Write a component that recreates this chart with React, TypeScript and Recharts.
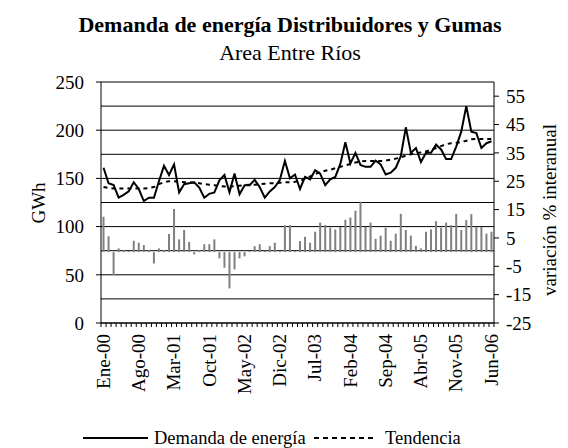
import React from 'react';
import {
  ComposedChart,
  Bar,
  Line,
  XAxis,
  YAxis,
  CartesianGrid,
} from 'recharts';

// month names and years for the category axis (Ene-00 .. Jun-06)
const monthNames = ['Ene', 'Feb', 'Mar', 'Abr', 'May', 'Jun', 'Jul', 'Ago', 'Sep', 'Oct', 'Nov', 'Dic'];
const years = ['00', '01', '02', '03', '04', '05', '06'];

// GWh, monthly demand
const demanda = [
  161, 145, 143, 130, 133, 136.5, 146, 139, 126.5, 130, 130, 147,
  163, 153.5, 164.5, 135.5, 144, 145, 146, 140.5, 130, 134, 135.5, 148,
  153.5, 135.5, 155, 133.5, 143, 143, 148.5, 141, 130, 136.5, 141, 148.5,
  168, 150, 154, 139, 151.5, 149, 158.5, 155, 143, 149, 151.5, 165,
  187.5, 165.5, 176.5, 164, 162, 162, 168.5, 164.5, 154, 156, 161, 173,
  203, 176.5, 181.5, 167, 176.5, 176.5, 185, 180, 170, 170, 183, 198.5,
  225, 198.5, 197, 181.5, 186.5, 188.5,
];

// GWh, trend
const tendencia = [
  141, 140, 139.5, 139.5, 139.5, 139.5, 139.5, 139.5, 139.5, 140, 141, 144,
  146, 147, 147, 146.5, 146, 146, 145.5, 145, 144, 143.5, 143, 142,
  141.5, 141.5, 142, 142.5, 143, 143.5, 143.5, 144, 144.5, 145, 145, 145.5,
  146, 146, 146.5, 147.5, 149.5, 152, 154.5, 156.5, 158, 159, 160.5, 162,
  163.5, 165, 166.5, 167.5, 168, 168, 168, 168, 168.5, 169.5, 170.5, 172,
  173.5, 175, 176, 177, 178, 179.5, 181.5, 183.5, 185.5, 186.5, 187, 187.5,
  189, 190.5, 191, 191, 191, 191,
];

// % interannual variation
const variacion = [
  12.5, 5.6, -8.1, 1.3, 0.7, 0.3, 4.0, 3.3, 2.5, 0.7, -4.0, 1.3,
  0.7, 6.4, 15.2, 4.5, 7.8, 3.6, -0.8, 0.7, 2.8, 2.8, 4.5, -2.2,
  -5.5, -12.8, -6.1, -2.2, -1.5, 0.3, 2.1, 2.8, 0.5, 2.1, 3.3, 0.3,
  9.5, 9.5, 0.3, 3.9, 5.4, 3.3, 7.2, 10.4, 9.6, 8.6, 8.0, 8.9,
  11.4, 12.2, 14.6, 17.8, 8.9, 10.4, 4.7, 5.8, 8.6, 4.0, 6.5, 13.5,
  7.8, 5.8, 2.2, 1.3, 7.2, 8.0, 10.9, 8.6, 10.4, 9.5, 13.5, 7.8,
  11.3, 13.4, 8.9, 8.9, 6.5, 7.2,
];

const leftTicks = [0, 25, 50, 75, 100, 125, 150, 175, 200, 225, 250];
const rightTicks = [-25, -15, -5, 5, 15, 25, 35, 45, 55];

const data = demanda.map((d, i) => ({
  mes: `${monthNames[i % 12]}-${years[Math.floor(i / 12)]}`,
  demanda: d,
  tendencia: tendencia[i],
  variacion: variacion[i],
}));

const FONT = '"Liberation Serif", "Times New Roman", serif';
const PLOT_W = 393;
const BAND = PLOT_W / data.length;

function MonthTick(props: any) {
  const { x, y, payload } = props;
  const i = payload.index;
  const half = BAND / 2;
  return (
    <g>
      <line x1={x - half} y1={y} x2={x - half} y2={y + 4} stroke="#000" />
      {i === data.length - 1 && (
        <line x1={x + half} y1={y} x2={x + half} y2={y + 4} stroke="#000" />
      )}
      {i % 7 === 0 && (
        <text
          x={x - 11}
          y={y}
          dy="0.33em"
          textAnchor="end"
          transform={`rotate(-90, ${x}, ${y})`}
          fontSize={19}
          fontFamily={FONT}
          fill="#000"
        >
          {payload.value}
        </text>
      )}
    </g>
  );
}

export default function App() {
  return (
    <div
      style={{
        position: 'absolute',
        left: 0,
        top: 0,
        width: 568,
        height: 448,
        background: '#fff',
        fontFamily: FONT,
      }}
    >
      <ComposedChart
        width={568}
        height={448}
        data={data}
        margin={{ top: 82, right: 0, bottom: 0, left: 0 }}
        barCategoryGap="30%"
      >
        <CartesianGrid yAxisId="left" vertical={false} stroke="#000" />
        <XAxis
          dataKey="mes"
          interval={0}
          height={125}
          tickSize={0}
          tickMargin={0}
          tick={MonthTick}
          axisLine={{ stroke: '#000' }}
        />
        <YAxis
          yAxisId="left"
          domain={[0, 250]}
          ticks={leftTicks}
          width={101}
          tickSize={5}
          tickMargin={12}
          tick={{ fontSize: 19, fill: '#000', fontFamily: FONT }}
          axisLine={{ stroke: '#000' }}
          tickLine={{ stroke: '#000' }}
        />
        <YAxis
          yAxisId="right"
          orientation="right"
          domain={[-25, 60]}
          ticks={rightTicks}
          width={74}
          tickSize={5}
          tickMargin={7}
          tick={{ fontSize: 19, fill: '#000', fontFamily: FONT }}
          axisLine={{ stroke: '#000' }}
          tickLine={{ stroke: '#000' }}
        />
        <Bar
          yAxisId="right"
          dataKey="variacion"
          fill="#808080"
          isAnimationActive={false}
        />
        <Line
          yAxisId="left"
          dataKey="tendencia"
          stroke="#000"
          strokeWidth={2}
          strokeDasharray="4 4"
          dot={false}
          type="linear"
          isAnimationActive={false}
        />
        <Line
          yAxisId="left"
          dataKey="demanda"
          stroke="#000"
          strokeWidth={2}
          dot={false}
          type="linear"
          isAnimationActive={false}
        />
      </ComposedChart>

      {/* titles, axis names and legend */}
      <svg
        width={568}
        height={448}
        style={{ position: 'absolute', left: 0, top: 0, pointerEvents: 'none' }}
      >
        <text x={290} y={32} textAnchor="middle" fontSize={22} fontWeight="bold" fill="#000">
          Demanda de energía Distribuidores y Gumas
        </text>
        <text x={290} y={60} textAnchor="middle" fontSize={22} fill="#000">
          Area Entre Ríos
        </text>
        <text
          x={38}
          y={203}
          textAnchor="middle"
          dy="0.35em"
          transform="rotate(-90, 38, 203)"
          fontSize={19}
          fill="#000"
        >
          GWh
        </text>
        <text
          x={549}
          y={210}
          textAnchor="middle"
          dy="0.35em"
          transform="rotate(-90, 549, 210)"
          fontSize={19}
          fill="#000"
        >
          variación % interanual
        </text>

        <line x1={83} y1={438} x2={148} y2={438} stroke="#000" strokeWidth={2} />
        <text x={154} y={444} fontSize={18.5} fill="#000">
          Demanda de energía
        </text>
        <line x1={314} y1={438} x2={376} y2={438} stroke="#000" strokeWidth={2} strokeDasharray="5 4" />
        <text x={385} y={444} fontSize={18.5} fill="#000">
          Tendencia
        </text>
      </svg>
    </div>
  );
}
